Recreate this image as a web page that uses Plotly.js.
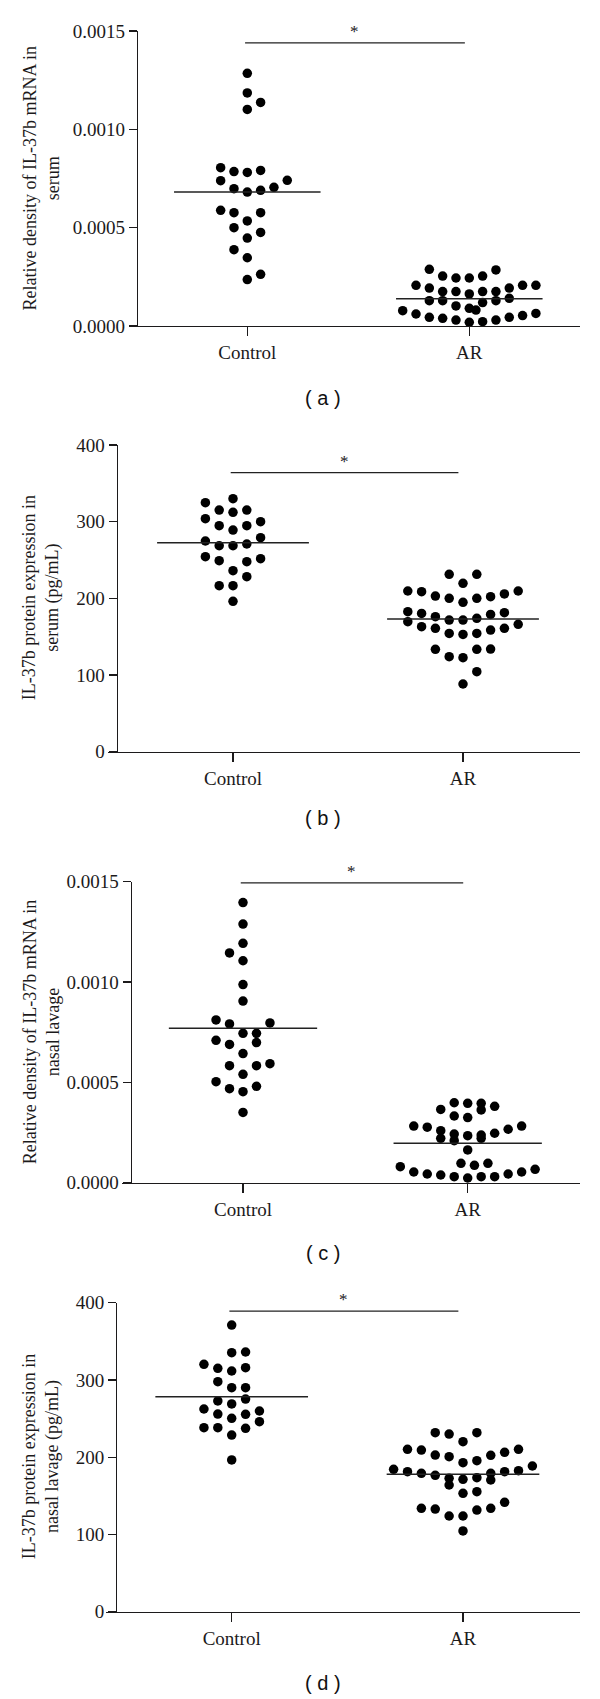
<!DOCTYPE html>
<html><head><meta charset="utf-8">
<script src="https://cdn.plot.ly/plotly-3.0.1.min.js"></script>
<style>html,body{margin:0;padding:0;background:#fff}</style>
</head><body><div id="chart" style="width:600px;height:1699px"></div>
<script>
const groups = ['Control', 'AR'];
const mrnaTickVals = [0, 0.0005, 0.0010, 0.0015];
const mrnaTickText = ['0.0000', '0.0005', '0.0010', '0.0015'];
const proteinTickVals = [0, 100, 200, 300, 400];
const proteinTickText = ['0', '100', '200', '300', '400'];

// (a) IL-37b mRNA in serum
const aControlValues = [0.001285,0.001185,0.001137,0.001101,0.000805,0.000785,0.000781,0.000791,0.000739,0.000741,0.000698,0.000705,0.000690,0.000681,0.000588,0.000576,0.000576,0.000534,0.000500,0.000476,0.000447,0.000388,0.000347,0.000263,0.000236];
const aControlSlots  = [0,0,1,0,-2,-1,0,1,-2,3,-1,2,1,0,-2,-1,1,0,-1,1,0,-1,0,1,0];
const aARValues = [0.000288,0.000254,0.000244,0.000244,0.000254,0.000285,
  0.000207,0.000193,0.000175,0.000175,0.000163,0.000175,0.000175,0.000193,0.000207,0.000207,
  0.000129,0.000129,0.000102,0.000090,0.000081,0.000119,0.000129,0.000141,
  0.000078,0.000061,0.000044,0.000039,0.000030,0.000019,0.000022,0.000030,0.000044,0.000053,0.000064];
const aARSlots = [-3,-2,-1,0,1,2,
  -4,-3,-2,-1,0,1,2,3,4,5,
  -3,-2,-1,0,0.5,1,2,3,
  -5,-4,-3,-2,-1,0,1,2,3,4,5];
const aCentre = [0.000681, 0.000139];
const aSig = 0.00144;

// (b) IL-37b protein in serum
const bControlValues = [330,324.8,315.2,312.2,315.2,303.9,294.8,289.1,294.8,300,279.1,274.8,268.7,268.7,270.9,254.3,249.1,247.8,251.7,236.1,228.3,216.5,216.5,196.1];
const bControlSlots  = [0,-2,-1,0,1,-2,-1,0,1,2,2,-2,-1,0,1,-2,-1,1,2,0,1,-1,0,0];
const bARValues = [231.4,231.4,219.6,
  209.6,208.7,203,200,194.8,200,202.2,205.7,209.6,
  182.6,180.4,176.1,171.7,171.7,173.9,179.1,181.3,
  169.6,163,160.9,154.3,153,154.3,158.7,160.9,166.1,
  133.5,123.9,122.6,133.5,133.9,
  104.3,88.3];
const bARSlots = [-1,1,0,
  -4,-3,-2,-1,0,1,2,3,4,
  -4,-3,-2,-1,0,1,2,3,
  -4,-3,-2,-1,0,1,2,3,4,
  -2,-1,0,1,2,
  1,0];
const bCentre = [272.6, 173.1];
const bSig = 364;

// (c) IL-37b mRNA in nasal lavage
const cControlValues = [0.001396,0.001289,0.001193,0.001145,0.001106,0.000987,0.000905,0.000811,0.000791,0.000796,0.000744,0.000744,0.000709,0.000689,0.000698,0.000643,0.000583,0.000583,0.000593,0.000540,0.000503,0.000468,0.000453,0.000480,0.000350];
const cControlSlots  = [0,0,0,-1,0,0,0,-2,-1,2,0,1,-2,-1,1,0,-1,1,2,0,-2,-1,0,1,0];
const cARValues = [0.000365,0.000398,0.000395,0.000395,0.000362,0.000380,0.000332,0.000324,
  0.000282,0.000276,0.000259,0.000242,0.000234,0.000237,0.000246,0.000266,0.000282,
  0.000221,0.000209,0.000221,
  0.000163,
  0.000096,0.000086,0.000096,
  0.0000794,0.0000528,0.0000429,0.0000379,0.0000296,0.0000229,0.0000296,0.0000296,0.0000429,0.0000528,0.0000661];
const cARSlots = [-2,-1,0,1,1,2,-1,0,
  -4,-3,-2,-1,0,1,2,3,4,
  -2,-1,1,
  0,
  -0.5,0.5,1.5,
  -5,-4,-3,-2,-1,0,1,2,3,4,5];
const cCentre = [0.000769, 0.000196];
const cSig = 0.001494;

// (d) IL-37b protein in nasal lavage
const dControlValues = [371.1,335.3,336.2,320.2,315,311.6,315.9,297.8,290,290,275.3,272.8,268.9,262.4,255.9,250.3,255.5,259.8,246,238.2,238.2,228.7,237.4,196.4];
const dControlSlots  = [0,0,1,-2,-1,0,1,-1,0,1,1,-1,0,-2,-1,0,1,2,2,-2,-1,0,1,0];
const dARValues = [231.7,230,231.7,220.1,
  210.2,209.3,202.8,200.7,192.9,195.5,202.4,206.3,210.2,
  184.3,181.3,179.1,176.5,172.6,164,171.3,173.5,179.1,170.5,181.3,182.6,188.6,
  153.2,155.4,
  133.8,132.9,123.9,123.9,131.6,133.8,141.6,
  104.5];
const dARSlots = [-2,-1,1,0,
  -4,-3,-2,-1,0,1,2,3,4,
  -5,-4,-3,-2,-1,-1,0,1,2,2,3,4,5,
  0,1,
  -3,-2,-1,0,1,2,3,
  0];
const dCentre = [278.3, 177.9];
const dSig = 389;

const yTitles = [
  'Relative density of IL-37b mRNA in<br>serum',
  'IL-37b protein expression in<br>serum (pg/mL)',
  'Relative density of IL-37b mRNA in<br>nasal lavage',
  'IL-37b protein expression in<br>nasal lavage (pg/mL)'
];
const panelLabels = ['( a )', '( b )', '( c )', '( d )'];

const panelsData = [
  {ctrl: aControlValues, ctrlSlots: aControlSlots, ar: aARValues, arSlots: aARSlots, centre: aCentre, sig: aSig, max: 0.0015, tv: mrnaTickVals, tt: mrnaTickText},
  {ctrl: bControlValues, ctrlSlots: bControlSlots, ar: bARValues, arSlots: bARSlots, centre: bCentre, sig: bSig, max: 400, tv: proteinTickVals, tt: proteinTickText},
  {ctrl: cControlValues, ctrlSlots: cControlSlots, ar: cARValues, arSlots: cARSlots, centre: cCentre, sig: cSig, max: 0.0015, tv: mrnaTickVals, tt: mrnaTickText},
  {ctrl: dControlValues, ctrlSlots: dControlSlots, ar: dARValues, arSlots: dARSlots, centre: dCentre, sig: dSig, max: 400, tv: proteinTickVals, tt: proteinTickText}
];

// pixel geometry of each panel (layout only)
const geom = [
  {yAxisX: 136.7, xStart: 129, xEnd: 580, yTop: 31,    yBottom: 326,    ctrlX: 247.3, arX: 469.3, labelY: 398},
  {yAxisX: 116.5, xStart: 108, xEnd: 580, yTop: 445,   yBottom: 751.7,  ctrlX: 233,   arX: 463,   labelY: 818},
  {yAxisX: 130.5, xStart: 122, xEnd: 580, yTop: 881.7, yBottom: 1182.6, ctrlX: 243,   arX: 467.7, labelY: 1253},
  {yAxisX: 116,   xStart: 106, xEnd: 580, yTop: 1302.7,yBottom: 1611.7, ctrlX: 231.7, arX: 463,   labelY: 1683}
];

const W = 600, H = 1699;
const SLOT = 0.06, HALF = 0.33;
const INK = '#1c1a1b';
const serif = 'Liberation Serif, Times New Roman, serif';

const traces = [];
const layout = {
  width: W, height: H, margin: {l: 0, r: 0, t: 0, b: 0},
  paper_bgcolor: '#fff', plot_bgcolor: 'rgba(0,0,0,0)',
  showlegend: false, shapes: [], annotations: [],
  font: {family: serif, color: INK}
};

panelsData.forEach((p, i) => {
  const g = geom[i];
  const n = i === 0 ? '' : String(i + 1);
  const xa = 'x' + n, ya = 'y' + n;
  const unit = g.arX - g.ctrlX;
  const xr = [1 - (g.ctrlX - g.xStart) / unit, 2 + (g.xEnd - g.arX) / unit];

  layout['xaxis' + n] = {
    domain: [g.xStart / W, g.xEnd / W], range: xr, anchor: ya,
    tickvals: [1, 2], ticktext: groups, showline: true, linecolor: INK, linewidth: 1.3,
    ticks: 'outside', ticklen: 9, tickwidth: 1.3, tickcolor: INK, showgrid: false, zeroline: false,
    tickfont: {family: serif, size: 19, color: INK}, fixedrange: true
  };
  layout['yaxis' + n] = {
    domain: [1 - g.yBottom / H, 1 - g.yTop / H], range: [0, p.max], anchor: 'free', position: g.yAxisX / W,
    tickvals: p.tv, ticktext: p.tt, showline: true, linecolor: INK, linewidth: 1.3,
    ticks: 'outside', ticklen: 8, tickwidth: 1.3, tickcolor: INK, showgrid: false, zeroline: false,
    tickfont: {family: serif, size: 19, color: INK}, fixedrange: true
  };

  [[p.ctrl, p.ctrlSlots, 1], [p.ar, p.arSlots, 2]].forEach(([vals, slots, gx]) => {
    traces.push({
      type: 'scatter', mode: 'markers', xaxis: xa, yaxis: ya,
      x: vals.map((v, k) => gx + slots[k] * SLOT), y: vals,
      marker: {size: 9.5, color: '#000'}, cliponaxis: false, hoverinfo: 'skip'
    });
  });
  p.centre.forEach((v, k) => {
    traces.push({
      type: 'scatter', mode: 'lines', xaxis: xa, yaxis: ya,
      x: [k + 1 - HALF, k + 1 + HALF], y: [v, v],
      line: {color: '#222', width: 1.5}, cliponaxis: false, hoverinfo: 'skip'
    });
  });
  // significance bar
  traces.push({
    type: 'scatter', mode: 'lines', xaxis: xa, yaxis: ya,
    x: [0.99, 1.98], y: [p.sig, p.sig], line: {color: '#222', width: 1.3},
    cliponaxis: false, hoverinfo: 'skip'
  });
  layout.annotations.push({
    xref: xa, yref: ya, x: 1.485, y: p.sig, text: '*', showarrow: false,
    yanchor: 'bottom', yshift: 0, font: {family: serif, size: 17, color: INK}
  });
  // y title
  layout.annotations.push({
    xref: 'paper', yref: 'paper', x: 41 / W, y: 1 - ((g.yTop + g.yBottom) / 2) / H,
    text: yTitles[i], textangle: -90, showarrow: false, xanchor: 'center', yanchor: 'middle',
    font: {family: serif, size: 18, color: INK}
  });
  // panel label
  layout.annotations.push({
    xref: 'paper', yref: 'paper', x: 323 / W, y: 1 - g.labelY / H,
    text: panelLabels[i], showarrow: false, xanchor: 'center', yanchor: 'middle',
    font: {family: 'Liberation Sans, Arial, sans-serif', size: 20, color: '#111'}
  });
});

Plotly.newPlot('chart', traces, layout, {staticPlot: true, displayModeBar: false});
</script>
</body></html>
